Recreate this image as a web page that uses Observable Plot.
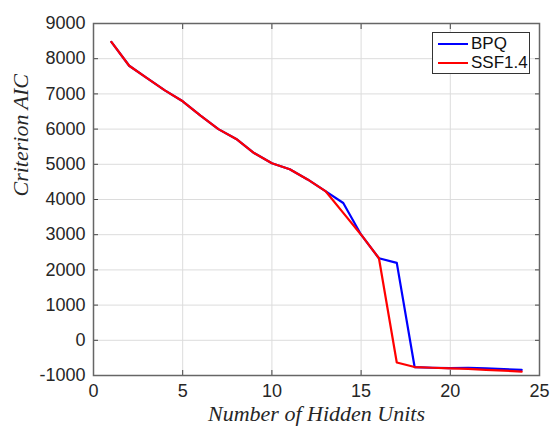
<!DOCTYPE html>
<html>
<head>
<meta charset="utf-8">
<script src="https://cdn.jsdelivr.net/npm/d3@7"></script>
<script src="https://cdn.jsdelivr.net/npm/@observablehq/plot@0.6"></script>
<style>
  html, body { margin: 0; padding: 0; background: #fff; }
  #wrap { position: relative; width: 551px; height: 427px; }
  #legend { position: absolute; left: 432px; top: 32px; width: 98px; height: 42px;
    border: 1px solid #333; background: #fff; box-sizing: border-box;
    font-family: "Liberation Sans", Arial, sans-serif; font-size: 17px; color: #111; }
  .row { position: absolute; left: 0; height: 20px; display: flex; align-items: center; }
  .sw { display: inline-block; width: 30px; height: 2px; margin-left: 5px; margin-right: 3px; }
</style>
</head>
<body>
<div id="wrap"></div>
<script>
const hiddenUnits = [1,2,3,4,5,6,7,8,9,10,11,12,13,14,15,16,17,18,19,20,21,22,23,24];
const bpqAIC = [8480, 7800, 7450, 7100, 6790, 6380, 6000, 5720, 5320, 5030, 4860, 4570, 4240, 3900, 3000, 2330, 2200, -760, -780, -790, -780, -800, -820, -840];
const ssfAIC = [8480, 7800, 7450, 7100, 6790, 6380, 6000, 5720, 5320, 5030, 4860, 4570, 4240, 3620, 3000, 2330, -630, -760, -780, -800, -810, -840, -860, -890];
const seriesNames = ["BPQ", "SSF1.4"];
const seriesColors = ["#0000ff", "#ff0000"];
const xTicks = [0, 5, 10, 15, 20, 25];
const yTicks = [-1000, 0, 1000, 2000, 3000, 4000, 5000, 6000, 7000, 8000, 9000];
const xLabel = "Number of Hidden Units";
const yLabel = "Criterion AIC";

const rows = [];
hiddenUnits.forEach((h, i) => rows.push({x: h, y: bpqAIC[i], s: seriesNames[0]}));
hiddenUnits.forEach((h, i) => rows.push({x: h, y: ssfAIC[i], s: seriesNames[1]}));

const fmt = d => String(d);
const chart = Plot.plot({
  width: 551, height: 427,
  marginLeft: 93, marginRight: 12, marginTop: 23, marginBottom: 52,
  style: {fontSize: "18px", fontFamily: "'Liberation Sans', Arial, sans-serif", color: "#262626", background: "#fff"},
  x: {domain: [0, 25]},
  y: {domain: [-1000, 9000]},
  color: {domain: seriesNames, range: seriesColors},
  marks: [
    Plot.gridX(xTicks, {stroke: "#dcdcdc", strokeOpacity: 1}),
    Plot.gridY(yTicks, {stroke: "#dcdcdc", strokeOpacity: 1}),
    Plot.axisX(xTicks, {anchor: "bottom", tickSize: 0, tickPadding: 9, tickFormat: fmt, label: null, stroke: "#444"}),
    Plot.axisX(xTicks, {anchor: "bottom", tickSize: -5, tickFormat: () => "", label: null, stroke: "#444"}),
    Plot.axisX(xTicks, {anchor: "top", tickSize: -5, tickFormat: () => "", label: null, stroke: "#444"}),
    Plot.axisY(yTicks, {anchor: "left", tickSize: 0, tickPadding: 8, tickFormat: fmt, label: null, stroke: "#444"}),
    Plot.axisY(yTicks, {anchor: "left", tickSize: -5, tickFormat: () => "", label: null, stroke: "#444"}),
    Plot.axisY(yTicks, {anchor: "right", tickSize: -5, tickFormat: () => "", label: null, stroke: "#444"}),
    Plot.frame({stroke: "#666", strokeWidth: 1.5}),
    Plot.line(rows, {x: "x", y: "y", z: "s", stroke: "s", strokeWidth: 2.2}),
    Plot.text([xLabel], {frameAnchor: "bottom", dy: 45, fontFamily: "'Liberation Serif', 'Times New Roman', serif", fontStyle: "italic", fontSize: 22, fill: "#262626"}),
    Plot.text([yLabel], {frameAnchor: "left", dx: -73, dy: -3, rotate: -90, fontFamily: "'Liberation Serif', 'Times New Roman', serif", fontStyle: "italic", fontSize: 22, fill: "#262626"})
  ]
});
const wrap = document.getElementById("wrap");
wrap.appendChild(chart);

const legend = document.createElement("div");
legend.id = "legend";
seriesNames.forEach((n, i) => {
  const r = document.createElement("div");
  r.className = "row";
  r.style.top = (i * 19 + 1) + "px";
  const sw = document.createElement("span");
  sw.className = "sw";
  sw.style.background = seriesColors[i];
  const t = document.createElement("span");
  t.textContent = n;
  r.appendChild(sw); r.appendChild(t);
  legend.appendChild(r);
});
wrap.appendChild(legend);
</script>
</body>
</html>
